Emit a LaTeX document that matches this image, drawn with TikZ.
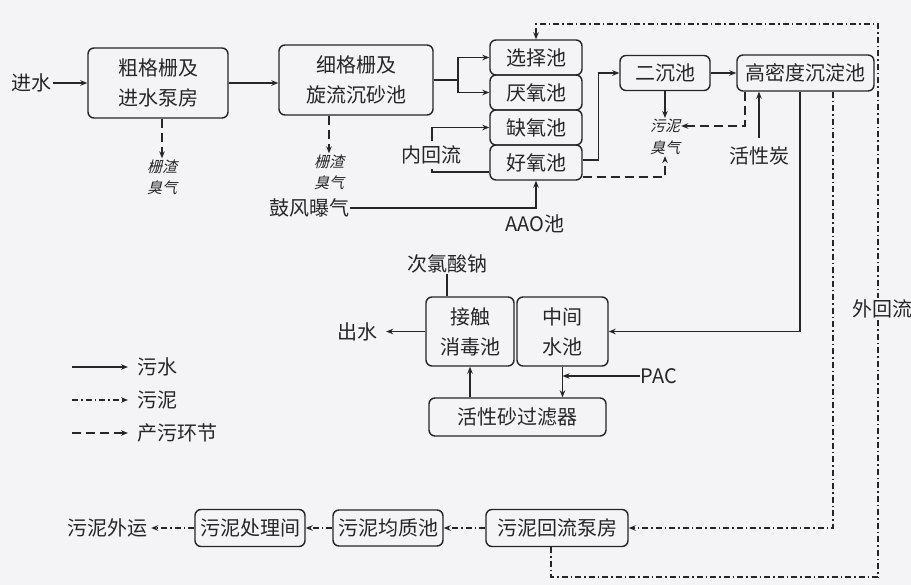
\documentclass[tikz,border=0pt]{standalone}
\usepackage{fontspec}
\setmainfont{Noto Sans CJK SC}
\newfontfamily\slfont{Noto Sans CJK SC}[FakeSlant=0.25]
\usetikzlibrary{arrows.meta,calc}
\definecolor{bg}{RGB}{244,244,246}
\definecolor{ink}{RGB}{38,38,38}
\tikzset{
  box/.style={draw=ink, line width=1.4pt, rounded corners=6pt, align=center,
    font=\fontsize{20}{30}\selectfont, inner sep=0pt, text=ink},
  lbl/.style={align=center, font=\fontsize{20}{26}\selectfont, text=ink, inner sep=1pt},
  sm/.style={align=center, font=\slfont\fontsize{15}{21}\selectfont, text=ink, inner sep=1pt},
  plain/.style={draw=ink, line width=1.2pt},
  flow/.style={draw=ink, line width=1.2pt, -{Stealth[length=7pt,width=5.5pt]}},
  sludge/.style={flow, dash pattern=on 6pt off 3pt on 1.5pt off 3pt},
  pollute/.style={flow, dash pattern=on 9pt off 5pt}
}
\begin{document}
\begin{tikzpicture}[x=1pt,y=-1pt]
\fill[bg] (0,0) rectangle (911,585);
\useasboundingbox (0,0) rectangle (911,585);

% boxes
\node[box, minimum width=140pt, minimum height=70pt] (b1) at (158,83) {粗格栅及\\进水泵房};
\node[box, minimum width=154pt, minimum height=70pt] (b2) at (356,80) {细格栅及\\旋流沉砂池};
\node[box, minimum width=92pt, minimum height=35pt] (xz) at (536,57.5) {选择池};
\node[box, minimum width=92pt, minimum height=35pt] (yy) at (536,92.5) {厌氧池};
\node[box, minimum width=92pt, minimum height=35pt] (qy) at (536,127.5) {缺氧池};
\node[box, minimum width=92pt, minimum height=35pt] (hy) at (536,162.5) {好氧池};
\node[box, minimum width=90pt, minimum height=35pt] (ec) at (665,73) {二沉池};
\node[box, minimum width=137pt, minimum height=36pt] (gm) at (805.5,73) {高密度沉淀池};
\node[box, minimum width=88pt, minimum height=69pt] (jc) at (470,331.5) {接触\\消毒池};
\node[box, minimum width=91pt, minimum height=69pt] (zj) at (562.5,331.5) {中间\\水池};
\node[box, minimum width=177pt, minimum height=38pt] (gl) at (517.5,417) {活性砂过滤器};
\node[box, minimum width=142pt, minimum height=37pt] (wh) at (557,528) {污泥回流泵房};
\node[box, minimum width=110pt, minimum height=36pt] (jz) at (388,528) {污泥均质池};
\node[box, minimum width=110pt, minimum height=37pt] (cl) at (250,528) {污泥处理间};

% labels
\node[lbl] (in) at (32,83) {进水};
\node[sm] (s1) at (162,177) {栅渣\\臭气};
\node[sm] (s2) at (329,172) {栅渣\\臭气};
\node[lbl] (gf) at (309,208) {鼓风曝气};
\node[lbl] (aao) at (535,224) {AAO池};
\node[sm] (sn1) at (665,126) {污泥};
\node[sm] (sn2) at (665,148) {臭气};
\node[lbl] (hx) at (759,156) {活性炭};
\node[lbl] (ns) at (447,264) {次氯酸钠};
\node[lbl] (cs) at (357,331.5) {出水};
\node[lbl] (pac) at (659,376) {PAC};
\node[lbl] (ww) at (107,528) {污泥外运};

% main water flow
\draw[flow] (in.east) -- (in.east -| b1.west);
\draw[flow] (b1.east) -- (b1.east -| b2.west);
\coordinate (sp) at (458,80);
\draw[plain] (b2.east) -- (sp);
\draw[flow] (sp) |- (xz.west);
\draw[flow] (sp) |- (yy.west);
\coordinate (nh) at (432,150);
\draw[flow] ([yshift=-9.5pt]hy.west) -| (nh) |- (qy.west);
\node[lbl, fill=bg, inner xsep=2pt, inner ysep=5pt] (nl) at (431,155) {内回流};
\draw[flow] (gf.east) -| (hy.south);
\draw[flow] ([yshift=2.5pt]hy.east) -- ++(16,0) |- (ec.west);
\draw[flow] (ec.east) -- (gm.west);
\draw[flow] (ec.south) -- (sn1.north);
\draw[pollute] ([yshift=-14.5pt]hy.east) -| (sn2.south);
\draw[pollute] ([xshift=-60.5pt]gm.south) |- (sn1.east);
\draw[flow] ([yshift=8pt]hx.north) -- (hx.north |- gm.south);
\draw[flow] ([xshift=-5.5pt]gm.south) |- (zj.east);
\draw[plain] (ns.south) -- (ns.south |- jc.north);
\draw[flow, shorten >=8pt] (jc.west) -- (cs.east);
\draw[flow] (zj.south) -- (zj.south |- gl.north);
\draw[flow] (pac.west) -- (pac.west -| zj.south);
\draw[flow] (jc.south |- gl.north) -- (jc.south);
\draw[pollute] (s1.north |- b1.south) -- (s1.north);
\draw[pollute] (s2.north |- b2.south) -- (s2.north);

% sludge lines
\draw[sludge] ([xshift=27.5pt]gm.south) |- (wh.east);
\coordinate (oc1) at (878,577);
\coordinate (oc2) at (878,24);
\draw[sludge] ([xshift=-6pt]wh.south) |- (oc1) -- (oc2) -| (xz.north);
\node[lbl, fill=bg, inner sep=2pt] (wl) at (882,309) {外回流};
\draw[sludge] (wh.west) -- (jz.east);
\draw[sludge] (jz.west) -- (cl.east);
\draw[sludge, shorten >=3pt] (cl.west) -- (ww.east);

% legend
\node[lbl, anchor=west] (lg1) at (136,367) {污水};
\node[lbl, anchor=west] (lg2) at (136,400) {污泥};
\node[lbl, anchor=west] (lg3) at (136,433) {产污环节};
\draw[flow, shorten >=8pt] ($(lg1.west)+(-64,0)$) -- (lg1.west);
\draw[sludge, shorten >=8pt] ($(lg2.west)+(-64,0)$) -- (lg2.west);
\draw[pollute, shorten >=8pt] ($(lg3.west)+(-64,0)$) -- (lg3.west);
\end{tikzpicture}
\end{document}
